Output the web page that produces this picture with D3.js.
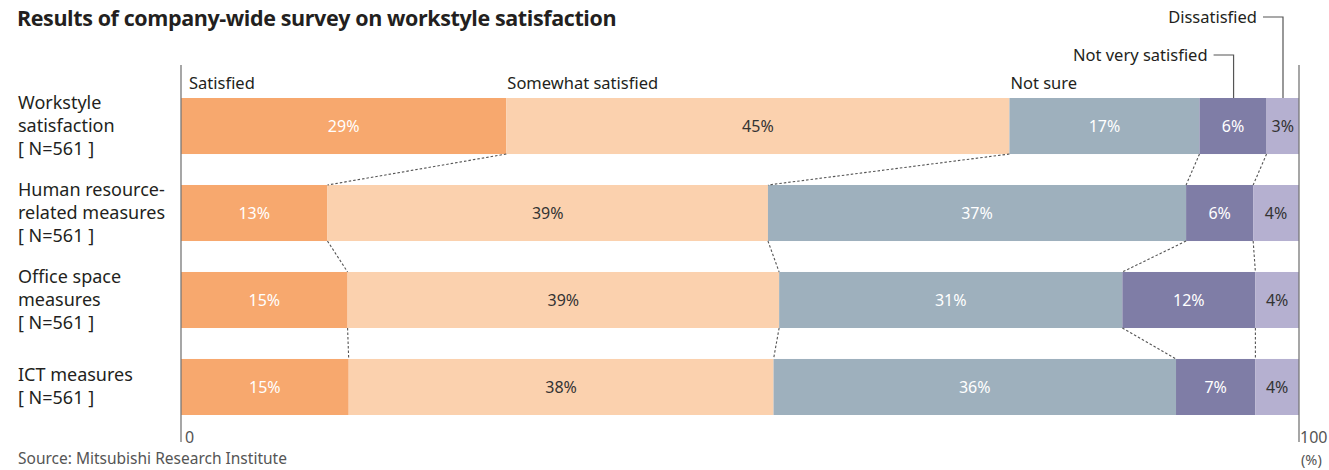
<!DOCTYPE html>
<html>
<head>
<meta charset="utf-8">
<script src="https://cdn.jsdelivr.net/npm/d3@7"></script>
<style>
  html, body { margin: 0; padding: 0; background: #fff; }
  svg { display: block; font-family: "Noto Sans", "Open Sans", sans-serif; }
</style>
</head>
<body>
<svg id="chart" width="1329" height="470"></svg>
<script>
// Survey responses, percent of respondents per answer
const categories = [
  ["Workstyle", "satisfaction", "[ N=561 ]"],
  ["Human resource-", "related measures", "[ N=561 ]"],
  ["Office space", "measures", "[ N=561 ]"],
  ["ICT measures", "[ N=561 ]"]
];
const answers = ["Satisfied", "Somewhat satisfied", "Not sure", "Not very satisfied", "Dissatisfied"];
const satisfied         = [29.1, 13.1, 14.9, 15.0];
const somewhatSatisfied = [45.0, 39.4, 38.6, 38.0];
const notSure           = [17.0, 37.4, 30.7, 36.0];
const notVerySatisfied  = [6.0, 6.0, 11.9, 7.1];
const dissatisfied      = [2.9, 4.1, 3.9, 3.9];
const axisTicks = [0, 100];

const colors = ["#F7A86E", "#FBD1AE", "#9EB0BD", "#7F7DA6", "#B5B0D0"];
const labelColors = ["#fff", "#333", "#fff", "#fff", "#333"];

const series = [satisfied, somewhatSatisfied, notSure, notVerySatisfied, dissatisfied];
const rows = categories.map((c, i) => {
  const r = { idx: i };
  answers.forEach((a, j) => r[a] = series[j][i]);
  return r;
});
const stacked = d3.stack().keys(answers)(rows);

const svg = d3.select("#chart");
const x = d3.scaleLinear().domain([0, 100]).range([181, 1299]);
const y = d3.scaleBand().domain(d3.range(categories.length)).range([98, 415]).paddingInner(0.356).paddingOuter(0);

// Title
svg.append("text").attr("x", 17).attr("y", 26)
  .attr("font-size", 21.5).attr("font-weight", 700).attr("fill", "#231f20")
  .attr("font-family", "'Open Sans', sans-serif").attr("letter-spacing", -0.4)
  .text("Results of company-wide survey on workstyle satisfaction");

// Bars
const layer = svg.append("g").selectAll("g").data(stacked).join("g")
  .attr("fill", (d, i) => colors[i]);
layer.selectAll("rect").data(d => d).join("rect")
  .attr("x", d => x(d[0]))
  .attr("y", (d, i) => y(i))
  .attr("width", d => x(d[1]) - x(d[0]))
  .attr("height", y.bandwidth());

// Value labels
stacked.forEach((s, k) => {
  svg.append("g").selectAll("text").data(s).join("text")
    .attr("x", d => (x(d[0]) + x(d[1])) / 2)
    .attr("y", (d, i) => y(i) + y.bandwidth() / 2 + 6)
    .attr("text-anchor", "middle").attr("font-size", 16)
    .attr("fill", labelColors[k])
    .text(d => Math.round(d[1] - d[0]) + "%");
});

// Dotted connectors between adjacent bars at each boundary
const conn = svg.append("g").attr("stroke", "#555").attr("stroke-width", 1.1)
  .attr("stroke-dasharray", "2.5,2");
for (let k = 0; k < answers.length - 1; k++) {
  for (let i = 0; i < rows.length - 1; i++) {
    conn.append("line")
      .attr("x1", x(stacked[k][i][1])).attr("y1", y(i) + y.bandwidth())
      .attr("x2", x(stacked[k][i + 1][1])).attr("y2", y(i + 1));
  }
}

// Axis lines at 0 and 100
const axisG = svg.append("g").attr("stroke", "#777").attr("stroke-width", 1.3);
axisTicks.forEach(t => {
  axisG.append("line").attr("x1", x(t)).attr("x2", x(t)).attr("y1", 65).attr("y2", 442);
});
svg.append("text").attr("x", x(0) + 4).attr("y", 443).attr("font-size", 16).attr("fill", "#555").text(axisTicks[0]);
svg.append("text").attr("x", x(100) + 1).attr("y", 443).attr("font-size", 16).attr("fill", "#555").text(axisTicks[1]);
svg.append("text").attr("x", x(100) + 2).attr("y", 465).attr("font-size", 14.5).attr("fill", "#555").text("(%)");

// Category labels
const catLines = svg.append("g").attr("font-size", 18).attr("fill", "#231f20");
categories.forEach((lines, i) => {
  const cy = y(i) + y.bandwidth() / 2;
  const lh = 23;
  const start = cy - (lines.length - 1) * lh / 2 + 6;
  lines.forEach((t, j) => {
    catLines.append("text").attr("x", 18).attr("y", start + j * lh).text(t);
  });
});

// Answer names above first bar
const first = stacked.map(s => s[0]);
const legend = svg.append("g").attr("font-size", 16.5).attr("fill", "#231f20");
[0, 1, 2].forEach(k => {
  legend.append("text").attr("x", x(first[k][0]) + (k === 0 ? 8 : 1)).attr("y", 89).text(answers[k]);
});
// Leader-line labels for the two narrow segments
const leaders = [
  { k: 3, ty: 55, px: x(first[3][1]) - 33 },
  { k: 4, ty: 17, px: x(first[4][1]) - 16 }
];
leaders.forEach(l => {
  legend.append("text").attr("x", l.px - 26).attr("y", l.ty + 5.5).attr("text-anchor", "end").text(answers[l.k]);
  svg.append("path")
    .attr("d", `M${l.px - 20},${l.ty}H${l.px}V${y(0)}`)
    .attr("fill", "none").attr("stroke", "#555").attr("stroke-width", 1.2);
});

// Source note
svg.append("text").attr("x", 18).attr("y", 464).attr("font-size", 15.5).attr("fill", "#555")
  .text("Source: Mitsubishi Research Institute");
</script>
</body>
</html>
